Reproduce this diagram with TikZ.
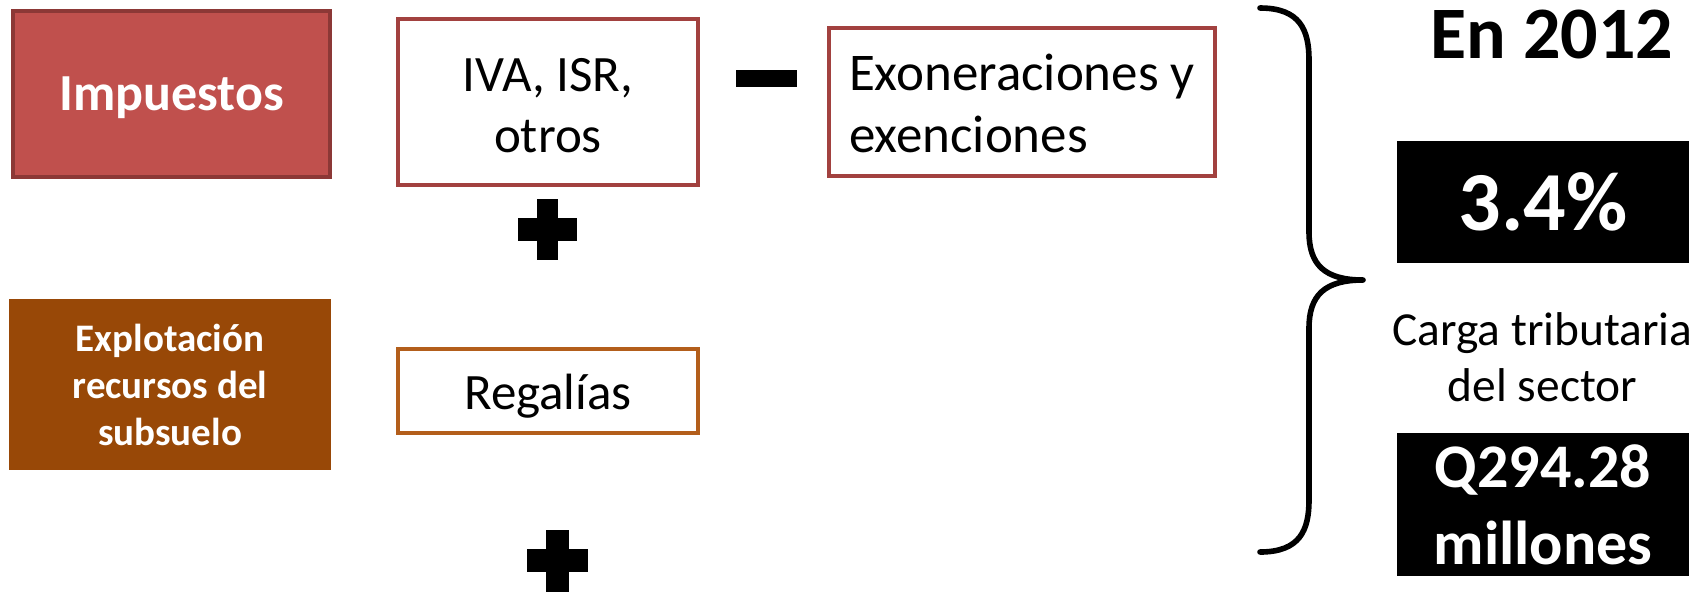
\documentclass[tikz,border=0pt]{standalone}
\usepackage{fontspec}
\setmainfont{Carlito}
\definecolor{impfill}{HTML}{C0504D}
\definecolor{impdraw}{HTML}{8C3836}
\definecolor{ivadraw}{HTML}{A2413F}
\definecolor{expfill}{HTML}{984807}
\definecolor{regdraw}{HTML}{B35E1B}
\newcommand\lowerby[2]{\raisebox{-#1}[\height][\depth]{#2}}
\begin{document}
\begin{tikzpicture}[x=0.5pt,y=-0.5pt,
  filledbox/.style={rectangle, line width=2pt, text=white, align=center, inner sep=0pt},
  outlinebox/.style={rectangle, fill=white, line width=2pt, align=center, text=black, inner sep=0pt},
  blackbox/.style={rectangle, fill=black, text=white, align=center, inner sep=0pt},
  opsign/.style={fill=black},
  bracepath/.style={line width=2.8pt, line cap=round, line join=round}]
\useasboundingbox (0,0) rectangle (1696,591);
\clip (0,0) rectangle (1696,591);
\fill[white] (0,0) rectangle (1696,591);

% left column
\node[filledbox, fill=impfill, draw=impdraw, minimum width=158.5pt, minimum height=83pt,
  font=\bfseries\fontsize{26}{31}\selectfont] (imp) at (171.5,93.5) {\lowerby{2pt}{Impuestos}};
\node[filledbox, fill=expfill, draw=expfill, minimum width=159pt, minimum height=83.5pt,
  font=\bfseries\fontsize{19.5}{23.5}\selectfont] (exp) at (170,384.5) {Explotación\\recursos del\\subsuelo};

% middle boxes
\node[outlinebox, draw=ivadraw, minimum width=150pt, minimum height=83pt,
  font=\fontsize{25.5}{30.5}\selectfont] (iva) at (548,102)
  {\lowerby{4.1pt}{\begin{tabular}{@{}c@{}}IVA, ISR,\\otros\end{tabular}}};
\node[outlinebox, draw=ivadraw, minimum width=193pt, minimum height=74pt,
  font=\fontsize{26.5}{31}\selectfont] (exo) at (1022,102)
  {\lowerby{3.3pt}{\begin{tabular}{@{}l@{}}Exoneraciones y\\exenciones\end{tabular}}};
\node[outlinebox, draw=regdraw, minimum width=150pt, minimum height=42pt,
  font=\fontsize{25.5}{30}\selectfont] (reg) at (548,391) {\lowerby{2.5pt}{Regalías}};

% operators
\fill[opsign] (736,70) rectangle (797,87);
\fill[opsign] (537,199) rectangle (558,260);
\fill[opsign] (518,218) rectangle (577,241);
\fill[opsign] (546,530) rectangle (569,595);
\fill[opsign] (527,549) rectangle (588,572);

% brace
\coordinate (btop) at (1260,8);
\coordinate (btip) at (1363,280);
\coordinate (bbot) at (1260,552);
\draw[bracepath] (btop) .. controls (1300,8) and (1309,30) .. (1309,60)
  -- (1309,232) .. controls (1309,265) and (1325,280) .. (btip)
  .. controls (1325,280) and (1309,295) .. (1309,328)
  -- (1309,500) .. controls (1309,530) and (1300,552) .. (bbot);

% right column
\node[font=\bfseries\fontsize{37}{44}\selectfont, anchor=base, inner sep=0pt] (year) at (1552,58) {En 2012};
\node[blackbox, minimum width=146pt, minimum height=61pt,
  font=\bfseries\fontsize{42}{50}\selectfont] (pct) at (1543,202) {3.4\%};
\node[font=\fontsize{23.7}{28}\selectfont, align=center, inner sep=0pt] (carga) at (1542.5,357) {Carga tributaria\\del sector};
\node[blackbox, minimum width=146pt, minimum height=71.5pt,
  font=\bfseries\fontsize{31}{38.5}\selectfont] (amt) at (1543,504.5) {Q294.28\\millones};
\end{tikzpicture}
\end{document}
